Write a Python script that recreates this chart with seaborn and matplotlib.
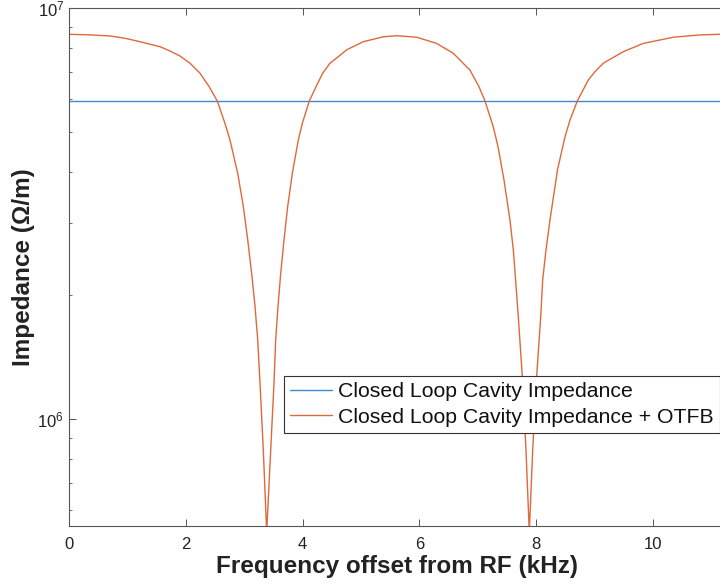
import numpy as np
import pandas as pd
import matplotlib
matplotlib.use("Agg")
import matplotlib.pyplot as plt
import seaborn as sns
from matplotlib.ticker import FixedLocator, LogLocator, NullFormatter

sns.set_style("ticks")
plt.rcParams["font.family"] = ["Liberation Sans", "DejaVu Sans"]
plt.rcParams["mathtext.fontset"] = "custom"
plt.rcParams["mathtext.rm"] = "Liberation Sans"

# ---- data ----
series_names = ["Closed Loop Cavity Impedance",
                "Closed Loop Cavity Impedance + OTFB"]

blue_freq = [0.0, 11.5]
blue_imp = [5.94e6, 5.94e6]

otfb_freq = [0.000, 0.360, 0.702, 0.959, 1.216, 1.558, 1.729, 1.901, 2.072, 2.243,
             2.402, 2.539, 2.671, 2.757, 2.889, 2.985, 3.060, 3.128, 3.185, 3.231,
             3.271, 3.327, 3.385, 3.454, 3.510, 3.539, 3.579, 3.625, 3.682, 3.745,
             3.824, 3.926, 3.995, 4.115, 4.229, 4.344, 4.469, 4.611, 4.755, 5.039,
             5.382, 5.611, 5.954, 6.296, 6.580, 6.866, 7.021, 7.123, 7.265, 7.346,
             7.449, 7.551, 7.608, 7.642, 7.694, 7.762, 7.825, 7.882, 7.940, 8.008,
             8.077, 8.111, 8.168, 8.236, 8.365, 8.493, 8.579, 8.704, 8.892, 9.007,
             9.149, 9.491, 9.834, 10.120, 10.348, 10.805, 11.135, 11.5]
otfb_imp = [8.63e6, 8.60e6, 8.55e6, 8.44e6, 8.28e6, 8.05e6, 7.86e6, 7.64e6, 7.34e6, 6.94e6,
            6.43e6, 5.94e6, 5.24e6, 4.77e6, 3.96e6, 3.29e6, 2.73e6, 2.26e6, 1.88e6, 1.56e6,
            1.22e6, 8.41e5, 5.3e5, 8.41e5, 1.22e6, 1.56e6, 1.88e6, 2.26e6, 2.73e6, 3.29e6,
            3.96e6, 4.77e6, 5.24e6, 5.94e6, 6.43e6, 6.94e6, 7.34e6, 7.61e6, 7.91e6, 8.28e6,
            8.51e6, 8.56e6, 8.49e6, 8.20e6, 7.76e6, 7.06e6, 6.43e6, 5.94e6, 5.14e6, 4.60e6,
            3.81e6, 3.05e6, 2.58e6, 2.23e6, 1.77e6, 1.27e6, 8.41e5, 5.3e5, 8.41e5, 1.27e6,
            1.77e6, 2.18e6, 2.58e6, 3.05e6, 4.04e6, 4.86e6, 5.34e6, 5.94e6, 6.68e6, 7.00e6,
            7.34e6, 7.83e6, 8.20e6, 8.36e6, 8.49e6, 8.60e6, 8.63e6, 8.64e6]

x_ticks = [0, 2, 4, 6, 8, 10]
y_major = [1e6, 1e7]

df = pd.concat([
    pd.DataFrame({"freq": blue_freq, "imp": blue_imp, "series": series_names[0]}),
    pd.DataFrame({"freq": otfb_freq, "imp": otfb_imp, "series": series_names[1]}),
], ignore_index=True)

blue = "#3A8DD0"
orange = "#E0683A"

fig = plt.figure(figsize=(7.2, 5.88), dpi=100)
ax = fig.add_axes([69 / 720, 1 - 526 / 588, 671.6 / 720, 518 / 588])

sns.lineplot(data=df, x="freq", y="imp", hue="series", hue_order=series_names,
             palette=[blue, orange], estimator=None, sort=False, lw=1.0, ax=ax)

ax.set_yscale("log")
ax.set_xlim(0, 11.5)
ax.set_ylim(5.49e5, 1e7)
ax.set_xticks(x_ticks)
ax.yaxis.set_major_locator(FixedLocator(y_major))
ax.yaxis.set_minor_locator(LogLocator(base=10, subs=np.arange(2, 10), numticks=20))
ax.yaxis.set_minor_formatter(NullFormatter())

spine_color = "#555555"
for s in ax.spines.values():
    s.set_color(spine_color)
    s.set_linewidth(0.8)
ax.tick_params(which="both", direction="in", top=True, right=False,
               color=spine_color, labelcolor="#222222", labelsize=12)
ax.tick_params(which="major", length=5, width=0.7)
ax.tick_params(which="minor", length=2.5, width=0.6)
ax.tick_params(axis="x", which="major", pad=8)

ax.set_xlabel("Frequency offset from RF (kHz)", fontsize=17.5, fontweight="bold",
              color="#222222")
ax.set_ylabel("Impedance (Ω/m)", fontsize=17.5, fontweight="bold", color="#222222")
ax.xaxis.set_label_coords((397 - 69) / 671.6, -(555 - 526) / 518)
ax.yaxis.set_label_coords(-(69 - 35) / 671.6, 0.5)

handles, labels = ax.get_legend_handles_labels()
leg = ax.legend(handles, labels, loc="upper right",
                bbox_to_anchor=(720 / 720, 1 - 376 / 588),
                bbox_transform=fig.transFigure, frameon=True, fancybox=False,
                fontsize=15.3, handlelength=1.95, handletextpad=0.3,
                borderpad=0.3, labelspacing=0.3, borderaxespad=0)
leg.get_frame().set_edgecolor("#333333")
leg.get_frame().set_linewidth(0.8)
leg.get_frame().set_facecolor("white")
leg.get_frame().set_alpha(1)
for line in leg.get_lines():
    line.set_linewidth(1.0)
for t in leg.get_texts():
    t.set_color("#111111")

fig.savefig("out.png", dpi=100)
